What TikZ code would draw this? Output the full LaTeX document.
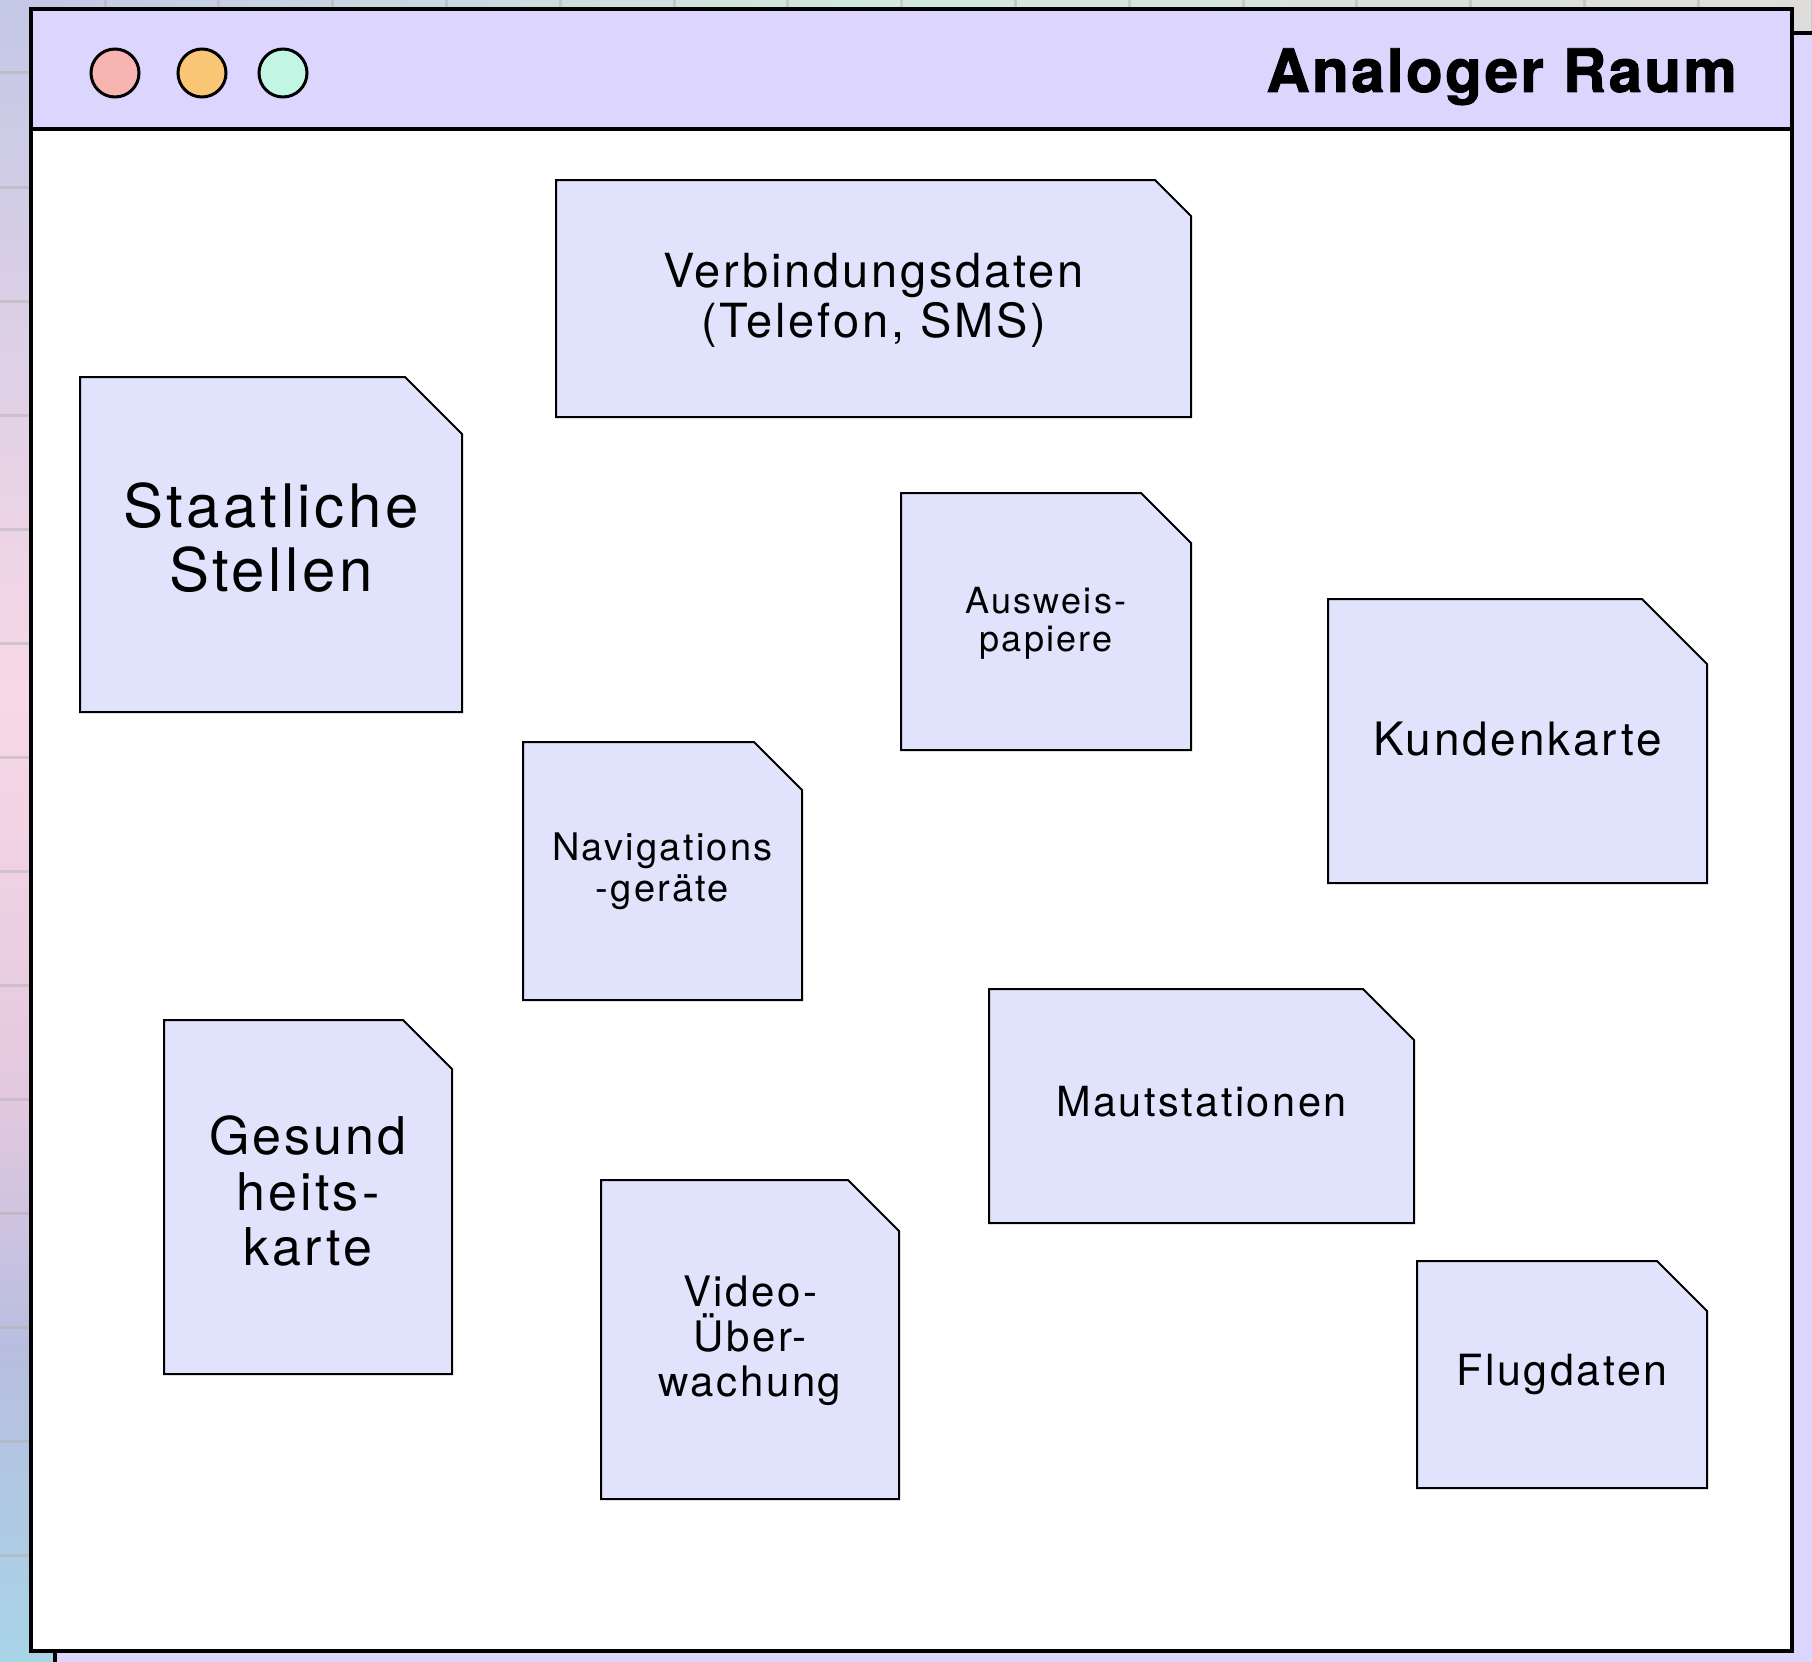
\documentclass[tikz,border=0pt]{standalone}
\usepackage{fontspec}
\setmainfont[LetterSpace=6]{TeX Gyre Heros}
\newfontfamily\titlefont[LetterSpace=4,BoldFeatures={FakeBold=1.6}]{TeX Gyre Heros}
\usetikzlibrary{calc}

\definecolor{bgblue}{HTML}{C3C8E6}
\definecolor{bgsky}{HTML}{C8DCE8}
\definecolor{bggreen}{HTML}{D2EADB}
\definecolor{bggray}{HTML}{DFDDDC}
\definecolor{bgpink}{HTML}{F8D8E6}
\definecolor{bgmauve}{HTML}{E2C8DF}
\definecolor{bgperi}{HTML}{B8BEE0}
\definecolor{bgice}{HTML}{A8D4E6}
\definecolor{barlila}{HTML}{DCD6FE}
\definecolor{cardlila}{HTML}{E1E3FD}
\definecolor{knobred}{HTML}{F8B4B0}
\definecolor{knoborange}{HTML}{F8C675}
\definecolor{knobgreen}{HTML}{C2F5E4}

\tikzset{
  gridline/.style={draw=black!30,opacity=0.5,line width=3pt},
  window/.style={draw=black,line width=4pt},
  card/.style={fill=cardlila,draw=black,line width=2pt,line join=miter},
  cardtext/.style={align=center,inner sep=0pt,text=black},
  knob/.style={circle,draw=black,line width=3pt,minimum size=48pt,inner sep=0pt},
}

\newcommand{\cardfont}[1]{\fontsize{#1}{\fpeval{1.07*#1}}\selectfont}
\newcommand{\notecard}[9]{%
  \draw[card] (#2,#5) -- (#2,#3) -- ({#4-#6},#3) -- (#4,{#3+#6}) -- (#4,#5) -- cycle;
  \node[cardtext,font=\cardfont{#7}] (#1) at ({(#2+#4)/2},{(#3+#5)/2+#8}) {#9};
}

\begin{document}
\begin{tikzpicture}[x=1pt,y=-1pt]
  \useasboundingbox (0,0) rectangle (1812,1662);
  \shade[left color=bgblue,right color=bggreen] (0,0) rectangle (900,60);
  \shade[left color=bggreen,right color=bggray] (900,0) rectangle (1812,60);
  \shade[top color=bgblue,bottom color=bgpink] (0,0) rectangle (60,700);
  \shade[top color=bgpink,bottom color=bgmauve] (0,700) rectangle (60,1100);
  \shade[top color=bgmauve,bottom color=bgperi] (0,1100) rectangle (60,1350);
  \shade[top color=bgperi,bottom color=bgice] (0,1350) rectangle (60,1662);
  \foreach \gx in {0,...,15}
    \draw[gridline] ({105+113.8*\gx},0) -- ({105+113.8*\gx},60);
  \foreach \gy in {0,...,14}
    \draw[gridline] (0,{73+114*\gy}) -- (60,{73+114*\gy});

  \filldraw[window,fill=barlila] (55,33) rectangle (1840,1690);
  \filldraw[window,fill=white] (31,9) rectangle (1792,1651);
  \filldraw[window,fill=barlila] (31,9) rectangle (1792,129);

  \node[knob,fill=knobred] (dotred) at (115,73) {};
  \node[knob,fill=knoborange] (dotorange) at (202,73) {};
  \node[knob,fill=knobgreen] (dotgreen) at (283,73) {};
  \node[anchor=base east,inner sep=0pt,font=\titlefont\bfseries\fontsize{60}{66}\selectfont]
    (title) at (1737,92) {Analoger Raum};

  \notecard{verbindung}{556}{180}{1191}{417}{36}{47}{2}{Verbindungsdaten\\(Telefon, SMS)}
  \notecard{staat}{80}{377}{462}{712}{57}{60}{-7}{Staatliche\\Stellen}
  \notecard{ausweis}{901}{493}{1191}{750}{50}{36}{2}{Ausweis-\\papiere}
  \notecard{kunde}{1328}{599}{1707}{883}{65}{46}{-2}{Kundenkarte}
  \notecard{navi}{523}{742}{802}{1000}{48}{38}{0}{Navigations\\-geräte}
  \notecard{gesund}{164}{1020}{452}{1374}{49}{52}{-6}{Gesund\\heits-\\karte}
  \notecard{maut}{989}{989}{1414}{1223}{51}{41.5}{-4}{Mautstationen}
  \notecard{video}{601}{1180}{899}{1499}{51}{42}{1}{Video-\\Über-\\wachung}
  \notecard{flug}{1417}{1261}{1707}{1488}{50}{43}{0}{Flugdaten}
\end{tikzpicture}
\end{document}
